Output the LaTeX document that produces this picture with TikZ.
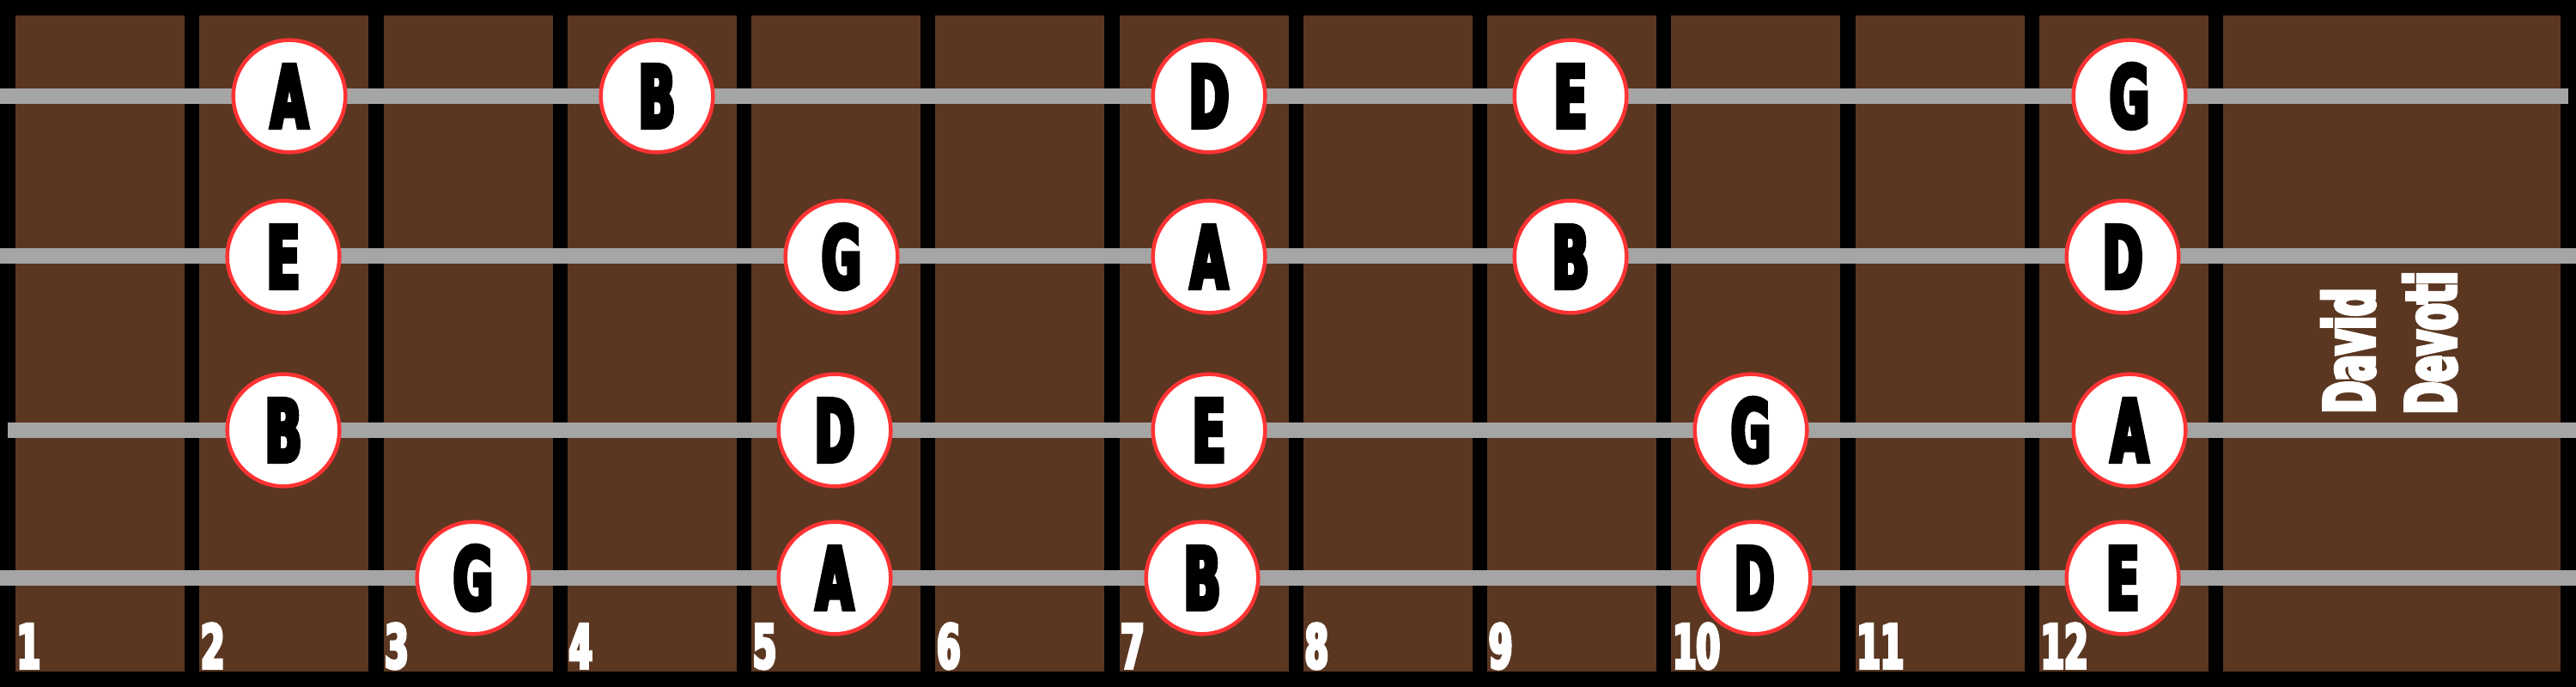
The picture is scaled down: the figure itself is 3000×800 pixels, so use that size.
\documentclass[tikz,border=0pt]{standalone}
\usepackage{fontspec}
\newfontfamily\cfont{DejaVu Sans Bold}[FakeStretch=0.56,FakeBold=5]
\definecolor{fretbrown}{RGB}{91,55,33}
\definecolor{strgray}{RGB}{165,165,165}
\definecolor{dotred}{RGB}{255,51,51}
\begin{document}
\begin{tikzpicture}[x=0.01cm,y=-0.01cm,
  notecirc/.style={circle,draw=dotred,fill=white,line width=0.045cm,minimum size=1.305cm,inner sep=0pt,text=black,font=\cfont\fontsize{28.5pt}{29pt}\selectfont},
  fretnum/.style={anchor=base west,inner sep=0pt,text=white,font=\cfont\fontsize{20pt}{21pt}\selectfont},
  sigtext/.style={anchor=base west,rotate=90,inner sep=0pt,text=white,font=\cfont\fontsize{23pt}{24pt}\selectfont},
  stringbar/.style={fill=strgray}]
\useasboundingbox (0,0) rectangle (3000,800);
\fill[black] (0,0) rectangle (3000,800);
% fret cells
\foreach \k in {1,...,12}
  \fill[fretbrown] ({18+(\k-1)*214.27},18) rectangle ++(197,764);
\fill[fretbrown] (2589,18) rectangle (2982,782);
% strings
\fill[stringbar] (0,103) rectangle (2991,121);
\fill[stringbar] (0,289) rectangle (3000,307);
\fill[stringbar] (9,492) rectangle (3000,510);
\fill[stringbar] (0,664) rectangle (3000,682);
% fret numbers
\foreach \k in {1,...,12}
  \node[fretnum] (f\k) at ({18+(\k-1)*214.27+1},778) {\k};
% notes
\foreach \x/\t [count=\i] in {337/A,765/B,1408/D,1829/E,2480/G}
  \node[notecirc] (a\i) at (\x,112) {\t};
\foreach \x/\t [count=\i] in {330/E,980/G,1408/A,1829/B,2472/D}
  \node[notecirc] (b\i) at (\x,299) {\t};
\foreach \x/\t [count=\i] in {330/B,972/D,1408/E,2039/G,2480/A}
  \node[notecirc] (c\i) at (\x,501) {\t};
\foreach \x/\t [count=\i] in {551/G,972/A,1400/B,2043/D,2472/E}
  \node[notecirc] (d\i) at (\x,673) {\t};
% signature
\node[sigtext] (dav) at (2765,482) {David};
\node[sigtext] (dev) at (2860,483) {Devoti};
\end{tikzpicture}
\end{document}
